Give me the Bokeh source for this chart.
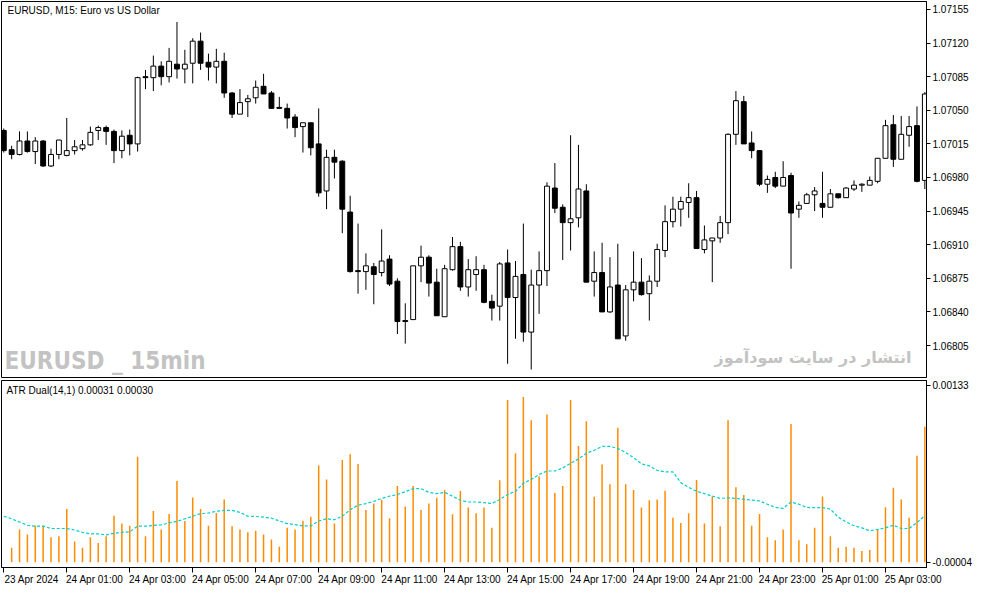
from bokeh.plotting import figure
from bokeh.layouts import column
from bokeh.models import (Range1d, LinearAxis, FixedTicker, NumeralTickFormatter,
                          CustomJSTickFormatter, Label, ColumnDataSource)
from bokeh.embed import file_html
from bokeh.resources import INLINE

# ---------------- data (EURUSD M15, bar 0 = 23 Apr 2024 23:00) ----------------
opens = [1.07029, 1.07009, 1.07004, 1.07018, 1.07007, 1.07018, 1.06992, 1.07004, 1.07003, 1.07008,
         1.07010, 1.07014, 1.07029, 1.07032, 1.07028, 1.07008, 1.07024, 1.07015, 1.07085, 1.07084,
         1.07096, 1.07085, 1.07098, 1.07093, 1.07099, 1.07122, 1.07100, 1.07095, 1.07101, 1.07068,
         1.07046, 1.07059, 1.07063, 1.07075, 1.07068, 1.07053, 1.07052, 1.07043, 1.07033, 1.07037,
         1.07015, 1.06966, 1.07001, 1.06997, 1.06944, 1.06883, 1.06882, 1.06887, 1.06881, 1.06895,
         1.06872, 1.06831, 1.06832, 1.06888, 1.06897, 1.06871, 1.06835, 1.06884, 1.06908, 1.06866,
         1.06879, 1.06884, 1.06851, 1.06846, 1.06891, 1.06855, 1.06879, 1.06819, 1.06868, 1.06883,
         1.06969, 1.06949, 1.06933, 1.06938, 1.06966, 1.06872, 1.06881, 1.06840, 1.06868, 1.06815,
         1.06863, 1.06871, 1.06859, 1.06872, 1.06904, 1.06934, 1.06947, 1.06954, 1.06959, 1.06905,
         1.06914, 1.06917, 1.06933, 1.07025, 1.07059, 1.07016, 1.07008, 1.06973, 1.06980, 1.06971,
         1.06982, 1.06947, 1.06953, 1.06962, 1.06953, 1.06949, 1.06963, 1.06959, 1.06968, 1.06972,
         1.06972, 1.06976, 1.07000, 1.07035, 1.06999, 1.07024, 1.07034, 1.06977]
highs = [1.07031, 1.07013, 1.07028, 1.07028, 1.07022, 1.07019, 1.07010, 1.07019, 1.07042, 1.07019,
         1.07019, 1.07033, 1.07034, 1.07034, 1.07030, 1.07029, 1.07030, 1.07085, 1.07092, 1.07107,
         1.07101, 1.07115, 1.07142, 1.07113, 1.07125, 1.07131, 1.07109, 1.07114, 1.07110, 1.07069,
         1.07072, 1.07066, 1.07081, 1.07088, 1.07070, 1.07064, 1.07057, 1.07046, 1.07037, 1.07037,
         1.07052, 1.07009, 1.07009, 1.06998, 1.06961, 1.06932, 1.06901, 1.06891, 1.06926, 1.06899,
         1.06875, 1.06849, 1.06888, 1.06909, 1.06899, 1.06885, 1.06889, 1.06918, 1.06913, 1.06895,
         1.06898, 1.06889, 1.06858, 1.06892, 1.06905, 1.06893, 1.06932, 1.06884, 1.06903, 1.06975,
         1.06995, 1.06952, 1.07024, 1.07014, 1.06973, 1.06903, 1.06912, 1.06897, 1.06911, 1.06868,
         1.06903, 1.06896, 1.06878, 1.06911, 1.06951, 1.06960, 1.06960, 1.06974, 1.06966, 1.06930,
         1.06917, 1.06940, 1.07026, 1.07070, 1.07065, 1.07028, 1.07008, 1.06982, 1.06986, 1.06997,
         1.06985, 1.06955, 1.06964, 1.06970, 1.06986, 1.06968, 1.06963, 1.06970, 1.06977, 1.06974,
         1.06981, 1.07000, 1.07040, 1.07045, 1.07044, 1.07044, 1.07054, 1.07069]
lows = [1.07006, 1.06999, 1.07003, 1.07006, 1.06994, 1.06991, 1.06991, 1.06999, 1.07002, 1.07004,
        1.07008, 1.07013, 1.07019, 1.07014, 1.06995, 1.07000, 1.07003, 1.07007, 1.07072, 1.07070,
        1.07076, 1.07079, 1.07083, 1.07078, 1.07078, 1.07092, 1.07081, 1.07078, 1.07063, 1.07042,
        1.07046, 1.07043, 1.07057, 1.07067, 1.07052, 1.07052, 1.07031, 1.07022, 1.07006, 1.07003,
        1.06960, 1.06947, 1.06979, 1.06922, 1.06881, 1.06859, 1.06863, 1.06848, 1.06877, 1.06867,
        1.06817, 1.06807, 1.06832, 1.06871, 1.06856, 1.06836, 1.06835, 1.06883, 1.06862, 1.06856,
        1.06862, 1.06849, 1.06831, 1.06831, 1.06786, 1.06812, 1.06809, 1.06780, 1.06838, 1.06867,
        1.06943, 1.06894, 1.06904, 1.06928, 1.06871, 1.06856, 1.06840, 1.06839, 1.06812, 1.06810,
        1.06851, 1.06857, 1.06831, 1.06866, 1.06897, 1.06928, 1.06929, 1.06938, 1.06906, 1.06901,
        1.06871, 1.06912, 1.06921, 1.07014, 1.07015, 1.07000, 1.06971, 1.06964, 1.06969, 1.06971,
        1.06885, 1.06938, 1.06953, 1.06945, 1.06938, 1.06949, 1.06958, 1.06959, 1.06966, 1.06965,
        1.06972, 1.06974, 1.07000, 1.06991, 1.06999, 1.07012, 1.06975, 1.06968]
closes = [1.07008, 1.07004, 1.07018, 1.07007, 1.07018, 1.06992, 1.07004, 1.07019, 1.07008, 1.07012,
          1.07014, 1.07027, 1.07032, 1.07028, 1.07008, 1.07023, 1.07015, 1.07084, 1.07084, 1.07096,
          1.07085, 1.07101, 1.07093, 1.07098, 1.07122, 1.07099, 1.07095, 1.07101, 1.07068, 1.07046,
          1.07058, 1.07062, 1.07074, 1.07067, 1.07052, 1.07052, 1.07042, 1.07032, 1.07037, 1.07011,
          1.06964, 1.07001, 1.06996, 1.06947, 1.06882, 1.06882, 1.06888, 1.06879, 1.06893, 1.06869,
          1.06830, 1.06830, 1.06888, 1.06897, 1.06870, 1.06836, 1.06885, 1.06908, 1.06866, 1.06884,
          1.06884, 1.06850, 1.06844, 1.06890, 1.06855, 1.06877, 1.06819, 1.06868, 1.06883, 1.06971,
          1.06948, 1.06933, 1.06937, 1.06968, 1.06871, 1.06881, 1.06840, 1.06866, 1.06812, 1.06863,
          1.06871, 1.06858, 1.06872, 1.06905, 1.06934, 1.06947, 1.06955, 1.06959, 1.06906, 1.06915,
          1.06917, 1.06933, 1.07025, 1.07060, 1.07015, 1.07008, 1.06973, 1.06978, 1.06971, 1.06980,
          1.06943, 1.06951, 1.06962, 1.06966, 1.06949, 1.06963, 1.06959, 1.06969, 1.06972, 1.06973,
          1.06977, 1.07000, 1.07034, 1.06999, 1.07025, 1.07033, 1.06976, 1.07067]

# ATR Dual(14,1) in points (1 point = 0.00001); histogram starts at bar 1
atr_hist_pts = [7.2, 21.5, 17.5, 24.3, 24.3, 15.5, 16.2, 37.2, 12.2, 7.2,
                15.5, 11, 16.2, 32, 26, 24.3, 77.7, 16.2, 35.7, 21.5,
                33.5, 59, 28, 46.2, 37.2, 24.3, 34.2, 44.7, 24, 21.5,
                19.2, 20.5, 17.5, 13.7, 8, 22.7, 21.5, 28.2, 31.2, 71,
                60.2, 26, 75.2, 79.7, 72.2, 36.5, 41.5, 44.5, 30.2, 55,
                39.2, 55, 36.5, 41.5, 46, 52, 33.2, 51.2, 38.5, 34,
                38.5, 22.7, 59.5, 121.7, 80.5, 124, 106, 62.5, 110.5, 49.7,
                55, 121.7, 86, 105.2, 46.7, 71.7, 56.5, 100.2, 56.5, 52,
                38.5, 44, 44.7, 51.5, 30.5, 26.5, 34, 59.7, 26, 47,
                24, 106, 54.2, 48.2, 24.3, 33.5, 15.5, 13, 21.5, 103,
                13, 10, 22.7, 47, 16.2, 7.2, 8, 7.2, 4.7, 5.5,
                21.2, 38.7, 53.7, 44.7, 30.5, 78.5, 101]
atr_line_pts = [31.7, 29.7, 27.2, 24.7, 24, 24, 22.2, 22.2, 22.2, 21,
                19.2, 18, 18, 17.2, 18.5, 19.2, 19.7, 24, 24, 24.5,
                25, 26.5, 27.7, 29.7, 31.7, 33.7, 34.2, 35.5, 36.2, 36.2,
                34.7, 31.7, 31.5, 31, 30.2, 28, 26, 25.2, 24.2, 24.2,
                28, 29.7, 29, 31.7, 36.7, 40.2, 41.5, 43.2, 45.5, 47.2,
                48.5, 50.7, 53, 53, 50.2, 49.2, 50.2, 47.2, 44, 42.7,
                42.7, 42.2, 41.5, 44.7, 48.5, 51, 57.2, 60.2, 64, 66.7,
                66.7, 69, 72.7, 76, 80.5, 82.7, 85.7, 85.7, 84.2, 81,
                77, 72.2, 70.7, 67.2, 66, 66, 57.7, 54, 51, 49.2,
                47.2, 45.5, 46, 45.5, 44.7, 44.2, 43.5, 41, 38.5, 37.7,
                42.7, 41, 38.5, 38.3, 38.3, 37.2, 31, 27.2, 24.3, 22.7,
                20.5, 21.5, 22.7, 24.7, 22.2, 22.2, 26.7, 32.2]

time_tick_bars = [0, 8, 16, 24, 32, 40, 48, 56, 64, 72, 80, 88, 96, 104, 112]
time_tick_labels = ["23 Apr 2024", "24 Apr 01:00", "24 Apr 03:00", "24 Apr 05:00", "24 Apr 07:00",
                    "24 Apr 09:00", "24 Apr 11:00", "24 Apr 13:00", "24 Apr 15:00", "24 Apr 17:00",
                    "24 Apr 19:00", "24 Apr 21:00", "24 Apr 23:00", "25 Apr 01:00", "25 Apr 03:00"]
price_ticks = [1.06805, 1.06840, 1.06875, 1.06910, 1.06945, 1.06980, 1.07015,
               1.07050, 1.07085, 1.07120, 1.07155]
atr_ticks = [-0.00004, 0.00133]

# ---------------- layout constants ----------------
FONT = "Liberation Sans"
W = 978
H1, H2 = 378, 209
RB = 52
PT = 1e-5

n = len(opens)
idx = list(range(n))
src = ColumnDataSource(dict(
    x=idx, o=opens, h=highs, l=lows, c=closes,
    top=[max(o, c) for o, c in zip(opens, closes)],
    bottom=[min(o, c) for o, c in zip(opens, closes)],
    fill=["white" if c >= o else "black" for o, c in zip(opens, closes)],
))

xr = Range1d(-0.29, 117.21)

# ---------------- price panel ----------------
p1 = figure(width=W, height=H1, x_range=xr, y_range=Range1d(1.067717, 1.071633),
            output_backend="svg", toolbar_location=None,
            x_axis_location=None, y_axis_location=None,
            min_border_left=1, min_border_right=RB, min_border_top=1, min_border_bottom=1,
            outline_line_color="black", outline_line_width=1,
            background_fill_color="white", border_fill_color="white")
p1.xgrid.visible = False
p1.ygrid.visible = False

ya1 = LinearAxis(ticker=FixedTicker(ticks=price_ticks),
                 formatter=NumeralTickFormatter(format="0.00000"),
                 major_tick_out=4, major_tick_in=0, minor_tick_out=0, minor_tick_in=0,
                 major_label_standoff=2, major_label_text_font=FONT,
                 major_label_text_font_size="10px", major_label_text_color="black",
                 axis_line_color="black", major_tick_line_color="black")
p1.add_layout(ya1, "right")

p1.segment(x0="x", y0="l", x1="x", y1="h", source=src, line_color="black", line_width=1)
p1.vbar(x="x", width=0.62, top="top", bottom="bottom", source=src,
        fill_color="fill", line_color="black", line_width=1)

p1.add_layout(Label(x=6, x_units="screen", y=1.071633, y_units="data", y_offset=-3,
                    text="EURUSD, M15:  Euro vs US Dollar", text_baseline="top",
                    text_font=FONT, text_font_size="10px", text_color="black"))
p1.add_layout(Label(x=3, x_units="screen", y=17, y_units="screen",
                    text="EURUSD _ 15min", text_baseline="alphabetic",
                    text_font="DejaVu Sans Condensed, DejaVu Sans, sans-serif",
                    text_font_style="bold", text_font_size="24px", text_color="#c3c3c3"))
p1.add_layout(Label(x=117.21, x_units="data", x_offset=-15, y=20, y_units="screen",
                    text="انتشار در سایت سودآموز", text_align="right", text_baseline="alphabetic",
                    text_font="DejaVu Sans", text_font_style="bold", text_font_size="16px",
                    text_color="#c3c3c3"))

# ---------------- ATR panel ----------------
p2 = figure(width=W, height=H2, x_range=xr, y_range=Range1d(-0.00008, 0.0013675),
            output_backend="svg", toolbar_location=None,
            x_axis_location=None, y_axis_location=None,
            min_border_left=1, min_border_right=RB, min_border_top=2, min_border_bottom=0,
            outline_line_color="black", outline_line_width=1,
            background_fill_color="white", border_fill_color="white")
p2.xgrid.visible = False
p2.ygrid.visible = False

ya2 = LinearAxis(ticker=FixedTicker(ticks=atr_ticks),
                 formatter=NumeralTickFormatter(format="0.00000"),
                 major_tick_out=4, major_tick_in=0, minor_tick_out=0, minor_tick_in=0,
                 major_label_standoff=2, major_label_text_font=FONT,
                 major_label_text_font_size="10px", major_label_text_color="black",
                 axis_line_color="black", major_tick_line_color="black")
p2.add_layout(ya2, "right")

# tick marks at the bar times (no text on this axis)
xa_ticks = LinearAxis(ticker=FixedTicker(ticks=time_tick_bars),
                      major_tick_out=5, major_tick_in=0, minor_tick_out=0, minor_tick_in=0,
                      major_label_text_color=None, major_label_standoff=0,
                      axis_line_color="black", major_tick_line_color="black")
p2.add_layout(xa_ticks, "below")

# time labels that start at their tick, as in MetaTrader
label_shift = 3.55
xa_labels = LinearAxis(ticker=FixedTicker(ticks=[b + label_shift for b in time_tick_bars]),
                       formatter=CustomJSTickFormatter(
                           args=dict(labels=time_tick_labels, shift=label_shift),
                           code="return labels[Math.round((tick - shift) / 8)] || '';"),
                       major_tick_out=0, major_tick_in=0, minor_tick_out=0, minor_tick_in=0,
                       major_label_standoff=1, major_label_text_font=FONT,
                       major_label_text_font_size="10px", major_label_text_color="black",
                       axis_line_color=None, major_tick_line_color=None, minor_tick_line_color=None)
p2.add_layout(xa_labels, "below")

hist_x = list(range(1, 1 + len(atr_hist_pts)))
hist_vals = [v * PT for v in atr_hist_pts]
base = atr_ticks[0]
p2.segment(x0=hist_x, y0=[base] * len(hist_x), x1=hist_x, y1=hist_vals,
           line_color="#FF8C00", line_width=1.5)
p2.line(idx, [v * PT for v in atr_line_pts], line_color="#00CED1", line_dash="3 2", line_width=1.2)

p2.add_layout(Label(x=5, x_units="screen", y=0.0013675, y_units="data", y_offset=-4,
                    text="ATR Dual(14,1) 0.00031 0.00030", text_baseline="top",
                    text_font=FONT, text_font_size="10px", text_color="black"))

layout = column(p1, p2, spacing=0)
open("out.html", "w").write(file_html(layout, INLINE))
